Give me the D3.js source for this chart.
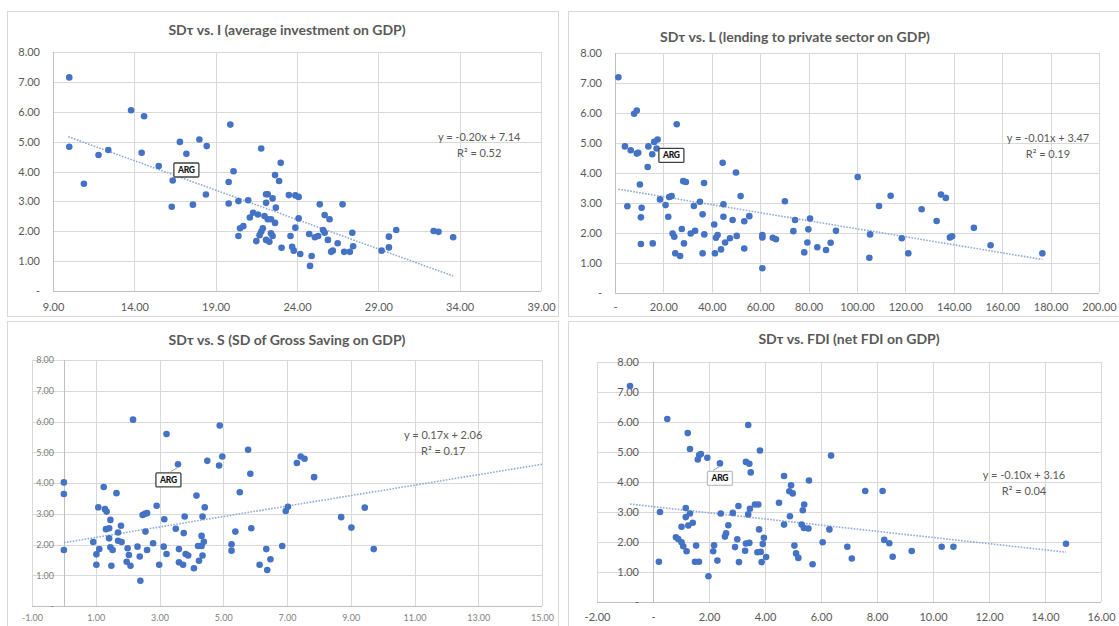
<!DOCTYPE html>
<html><head><meta charset="utf-8">
<script src="https://cdn.jsdelivr.net/npm/d3@7"></script>
<style>
body{margin:0;background:#fff;}
svg{display:block;font-family:Lato,"Open Sans",sans-serif;}
</style>
</head><body>
<svg id="c" width="1119" height="626"></svg>
<script>
// ---------- DATA ----------
const titles = [
  "SDτ vs. I (average investment on GDP)",
  "SDτ vs. L (lending to private sector on GDP)",
  "SDτ vs. S (SD of Gross Saving on GDP)",
  "SDτ vs. FDI (net FDI on GDP)"
];
const yTicks = [0,1,2,3,4,5,6,7,8];
const xTicksI = [9,14,19,24,29,34,39];
const xTicksL = [0,20,40,60,80,100,120,140,160,180,200];
const xTicksS = [-1,1,3,5,7,9,11,13,15];
const xTicksF = [-2,0,2,4,6,8,10,12,14,16];

const invX = [10.0,10.0,10.9,11.8,12.4,13.8,14.6,14.45,15.5,16.36,16.3,16.8,17.2,17.6,18.0,18.45,18.4,19.9,20.1,19.8,19.8,20.4,21.0,21.8,23.0,22.65,22.9,22.1,22.2,22.5,22.1,22.7,23.5,23.9,24.1,25.4,26.8,21.3,21.6,21.1,22.0,22.2,22.4,22.65,24.1,25.7,26.0,20.7,20.5,20.4,21.9,21.8,21.7,22.4,22.5,21.5,22.1,22.3,23.9,23.6,23.05,23.7,23.8,24.2,24.9,24.8,24.75,25.1,25.3,25.6,25.7,25.9,26.5,26.2,26.1,26.9,27.25,27.45,27.4,30.1,29.65,29.65,29.2,32.4,32.7,33.6];
const invY = [7.15,4.83,3.59,4.55,4.72,6.05,5.85,4.63,4.18,3.70,2.82,4.99,4.59,2.89,5.07,4.85,3.23,5.57,4.01,3.65,2.93,3.01,3.04,4.77,4.29,3.88,3.68,3.24,3.24,3.10,2.95,2.79,3.21,3.20,3.15,2.90,2.90,2.62,2.56,2.46,2.51,2.40,2.40,2.28,2.43,2.54,2.40,2.17,2.10,1.84,2.10,1.98,1.87,1.93,1.84,1.67,1.71,1.65,2.12,1.84,1.45,1.48,1.35,1.24,1.17,0.84,1.91,1.80,1.84,2.04,1.95,1.71,1.60,1.35,1.31,1.31,1.31,1.50,1.95,2.04,1.82,1.46,1.35,2.01,1.98,1.80];

const lendX = [1.4,4.1,6.5,9.0,9.6,7.9,9.0,13.8,15.4,16.2,17.6,17.2,13.5,10.3,18.6,20.9,22.4,23.4,22.0,5.1,11.0,10.7,10.7,15.6,23.8,24.5,27.6,28.5,24.9,26.9,28.2,29.3,31.3,33.1,32.6,35.1,36.8,36.2,36.9,36.2,25.5,44.5,50.0,41.0,44.8,44.8,48.6,41.3,43.8,41.7,42.4,45.5,47.5,50.3,51.9,53.4,55.5,53.4,60.9,60.9,60.9,65.2,66.5,70.2,74.4,73.7,80.6,79.9,79.5,78.2,83.6,87.2,89.1,91.3,100.3,109.1,113.9,105.4,105.1,118.5,121.2,126.7,132.9,134.7,136.7,138.4,139.3,148.3,155.2,176.6];
const lendY = [7.19,4.88,4.75,4.64,4.67,5.97,6.08,4.88,4.62,5.03,5.11,4.81,4.19,3.61,3.11,2.92,3.19,3.22,2.53,2.88,2.83,2.51,1.62,1.64,1.97,1.86,2.12,1.64,1.31,1.22,3.72,3.69,1.97,2.06,2.89,3.03,3.66,2.61,1.94,1.31,5.62,4.33,4.01,2.27,2.95,2.53,2.42,1.31,1.44,1.83,1.92,1.67,1.81,1.89,3.22,2.38,2.55,1.47,1.92,1.84,0.81,1.83,1.78,3.05,2.42,2.05,2.47,2.11,1.67,1.34,1.51,1.42,1.66,2.06,3.86,2.89,3.23,1.94,1.16,1.81,1.31,2.78,2.39,3.27,3.16,1.84,1.88,2.16,1.58,1.31];

const savX = [2.17,3.22,4.89,5.78,4.50,4.97,4.87,3.58,0,0,0,1.25,1.65,4.16,5.52,5.85,1.08,1.29,1.34,2.91,2.47,2.54,2.61,3.15,3.79,4.35,4.42,1.46,3.51,1.32,1.42,1.79,1.70,2.56,3.76,4.32,0.92,1.42,1.70,1.81,1.46,1.53,1.11,1.02,2.0,2.04,2.31,2.38,2.61,2.80,3.13,3.22,3.61,3.82,3.90,3.61,3.74,4.08,4.21,4.32,4.39,4.35,4.24,1.02,1.49,1.97,2.09,2.99,2.40,5.26,5.26,5.38,5.88,6.14,6.35,6.48,6.38,7.31,7.43,7.55,7.85,7.03,6.96,8.70,9.02,9.44,9.72,6.85];
const savY = [6.06,5.59,5.87,5.08,4.72,4.86,4.57,4.61,4.02,3.64,1.82,3.87,3.67,3.59,3.70,4.30,3.21,3.15,3.07,3.26,2.96,3.00,3.02,2.82,2.91,2.91,3.21,2.80,2.51,2.50,2.53,2.61,2.39,2.42,2.37,2.28,2.08,2.20,2.12,2.08,1.91,1.82,1.85,1.68,1.88,1.66,1.93,1.61,1.82,2.04,1.93,1.69,1.85,1.69,1.64,1.42,1.34,1.23,1.95,1.95,2.09,1.64,1.47,1.34,1.31,1.44,1.31,1.34,0.82,2.01,1.80,2.42,2.53,1.34,1.85,1.52,1.17,4.65,4.86,4.79,4.19,3.23,3.09,2.89,2.55,3.20,1.85,1.95];

const fdiX = [-0.82,0.51,1.24,1.32,1.65,1.71,1.6,1.94,2.39,3.40,3.82,3.32,3.44,3.49,6.36,4.68,4.93,4.87,4.99,5.57,7.58,8.2,0.25,1.17,1.17,1.32,1.02,1.26,1.42,2.42,2.85,3.05,3.64,3.76,3.46,3.40,4.5,5.4,5.35,4.89,4.68,5.31,5.39,5.55,6.30,2.69,2.61,2.57,0.82,0.90,1.02,1.08,1.2,1.54,2.18,2.15,3.01,2.93,3.32,3.44,3.29,3.79,3.96,3.92,3.73,3.85,4.04,3.88,5.05,5.11,5.19,6.06,6.94,7.10,0.21,1.5,1.64,2.30,3.07,5.70,1.98,8.26,8.44,8.56,9.24,10.31,10.73,14.75];
const fdiY = [7.2,6.1,5.63,5.1,4.9,4.93,4.75,4.81,4.62,5.9,5.05,4.67,4.61,4.32,4.88,4.2,3.89,3.69,3.62,4.05,3.7,3.70,3.0,3.13,2.83,2.95,2.51,2.55,2.64,2.95,2.97,3.2,3.25,3.25,3.11,2.92,3.31,3.25,3.06,2.86,2.58,2.58,2.47,2.45,2.42,2.56,2.29,2.18,2.16,2.1,1.99,1.86,1.69,1.88,1.89,1.69,2.09,1.83,1.95,1.97,1.71,2.42,2.14,1.93,1.66,1.67,1.5,1.33,1.88,1.62,1.47,1.99,1.84,1.45,1.34,1.34,1.34,1.38,1.33,1.26,0.86,2.07,1.96,1.51,1.70,1.84,1.84,1.94];

const trendSlope = [-0.197, -0.0134, 0.17, -0.103];
const trendIntercept = [7.12, 3.47, 2.06, 3.18];
const trendFrom = [9.94, 1.4, 0, -0.82];
const trendTo = [33.6, 176.6, 15, 14.75];
const eqLabels = ["y = -0.20x + 7.14", "y = -0.01x + 3.47", "y = 0.17x + 2.06", "y = -0.10x + 3.16"];
const r2Labels = ["R² = 0.52", "R² = 0.19", "R² = 0.17", "R² = 0.04"];
const eqPosX = [35.2, 178.9, 11.9, 13.25];
const eqPosY = [5.15, 5.15, 5.54, 4.23];
const argLabelX = [17.2, 23.3, 3.28, 2.39];
const argLabelY = [4.05, 4.58, 4.10, 4.12];
const argPointX = [17.2, 17.2, 3.58, 2.39];
const argPointY = [4.59, 4.81, 4.61, 4.62];

// ---------- DRAW ----------
const svg = d3.select("#c");
const fmt = d => d === 0 ? "-" : d.toFixed(2);

const panels = [
  {xs: invX, ys: invY, xt: xTicksI, dom: [9,39], frame:[7,11,551,305], L:53, R:541, T:52, B:291, yAxisAt:9, yLabEnd:40, xLabY:307, tx:287, ty:30, fs:11, tc:"#595959", showLeader:false, argStroke:"#404040"},
  {xs: lendX, ys: lendY, xt: xTicksL, dom: [0,200], frame:[568,11,551,305], L:615, R:1099, T:53, B:292.5, yAxisAt:0, yLabEnd:602, xLabY:307, tx:795, ty:37, fs:11, tc:"#595959", showLeader:false, argStroke:"#404040"},
  {xs: savX, ys: savY, xt: xTicksS, dom: [-1,15], frame:[7,321,551,305], L:32, R:542, T:360, B:606, yAxisAt:0, yLabEnd:54, xLabY:618, tx:287, ty:340, fs:9, tc:"#7f7f7f", showLeader:true, argStroke:"#404040"},
  {xs: fdiX, ys: fdiY, xt: xTicksF, dom: [-2,16], frame:[568,321,551,305], L:597, R:1101, T:362, B:602, yAxisAt:0, yLabEnd:639, xLabY:617, tx:849, ty:339, fs:11, tc:"#595959", showLeader:true, argStroke:"#bfbfbf"}
];

panels.forEach((p, i) => {
  const g = svg.append("g");
  g.append("rect").attr("x", p.frame[0]+0.5).attr("y", p.frame[1]+0.5)
    .attr("width", p.frame[2]).attr("height", p.frame[3])
    .attr("fill", "#fff").attr("stroke", "#d9d9d9").attr("stroke-width", 1);

  const x = d3.scaleLinear().domain(p.dom).range([p.L, p.R]);
  const y = d3.scaleLinear().domain([0, 8]).range([p.B, p.T]);

  // gridlines
  g.append("g").selectAll("line").data(yTicks).join("line")
    .attr("x1", p.L).attr("x2", p.R)
    .attr("y1", d => Math.round(y(d))+0.5).attr("y2", d => Math.round(y(d))+0.5)
    .attr("stroke", "#d9d9d9").attr("stroke-width", 1);
  g.append("g").selectAll("line").data(p.xt).join("line")
    .attr("x1", d => Math.round(x(d))+0.5).attr("x2", d => Math.round(x(d))+0.5)
    .attr("y1", p.T).attr("y2", p.B)
    .attr("stroke", "#d9d9d9").attr("stroke-width", 1);
  // axes lines
  g.append("line").attr("x1", Math.round(x(p.yAxisAt))+0.5).attr("x2", Math.round(x(p.yAxisAt))+0.5)
    .attr("y1", p.T).attr("y2", p.B).attr("stroke", "#bfbfbf");
  g.append("line").attr("x1", p.L).attr("x2", p.R)
    .attr("y1", Math.round(y(0))+0.5).attr("y2", Math.round(y(0))+0.5).attr("stroke", "#bfbfbf");

  // y labels
  const ya = g.append("g").attr("transform", `translate(${p.yLabEnd},0)`)
    .call(d3.axisLeft(y).tickValues(yTicks).tickFormat(fmt).tickSize(0).tickPadding(0));
  ya.select(".domain").remove();
  ya.selectAll("text").attr("font-family", "Lato, sans-serif").attr("font-size", p.fs).attr("fill", p.tc);

  // x labels
  const xa = g.append("g").attr("transform", `translate(0,${p.xLabY})`)
    .call(d3.axisBottom(x).tickValues(p.xt).tickFormat(fmt).tickSize(0).tickPadding(0));
  xa.select(".domain").remove();
  xa.selectAll("text").attr("y", 0).attr("dy", "0.35em")
    .attr("font-family", "Lato, sans-serif").attr("font-size", p.fs).attr("fill", p.tc);

  // title
  g.append("text").attr("x", p.tx).attr("y", p.ty).attr("dy", "0.35em")
    .attr("text-anchor", "middle").attr("font-size", 14).attr("font-weight", 700)
    .attr("fill", "#595959").text(titles[i]);

  // trendline
  const t0 = trendFrom[i], t1 = trendTo[i];
  g.append("line")
    .attr("x1", x(t0)).attr("y1", y(trendSlope[i]*t0 + trendIntercept[i]))
    .attr("x2", x(t1)).attr("y2", y(trendSlope[i]*t1 + trendIntercept[i]))
    .attr("stroke", "#8faadc").attr("stroke-width", 1.6).attr("stroke-dasharray", "1.6,1.4");

  // points
  const pts = p.xs.map((v, k) => [v, p.ys[k]]);
  g.append("g").selectAll("circle").data(pts).join("circle")
    .attr("cx", d => x(d[0])).attr("cy", d => y(d[1])).attr("r", 3.3)
    .attr("fill", "#4472c4");

  // equation
  const ex = x(eqPosX[i]), ey = y(eqPosY[i]);
  g.append("text").attr("x", ex).attr("y", ey).attr("dy", "0.35em").attr("text-anchor", "middle")
    .attr("font-size", 11).attr("fill", "#595959").text(eqLabels[i]);
  g.append("text").attr("x", ex).attr("y", ey + 16).attr("dy", "0.35em").attr("text-anchor", "middle")
    .attr("font-size", 11).attr("fill", "#595959").text(r2Labels[i]);

  // ARG label
  const ax = x(argLabelX[i]), ay = y(argLabelY[i]);
  if (p.showLeader) {
    g.append("line").attr("x1", ax + (i===2?2:-7)).attr("y1", ay - 8)
      .attr("x2", x(argPointX[i])).attr("y2", y(argPointY[i]) + 3)
      .attr("stroke", "#a6a6a6").attr("stroke-width", 1);
  }
  g.append("rect").attr("x", ax - 12.5).attr("y", ay - 7).attr("width", 25).attr("height", 14)
    .attr("fill", "#fff").attr("stroke", p.argStroke).attr("stroke-width", 1.3).attr("rx", 1);
  g.append("text").attr("x", ax).attr("y", ay).attr("dy", "0.35em").attr("text-anchor", "middle")
    .attr("font-size", 8.5).attr("font-weight", 900).attr("fill", "#111").attr("letter-spacing", "-0.3")
    .text("ARG");
});
</script>
</body></html>
